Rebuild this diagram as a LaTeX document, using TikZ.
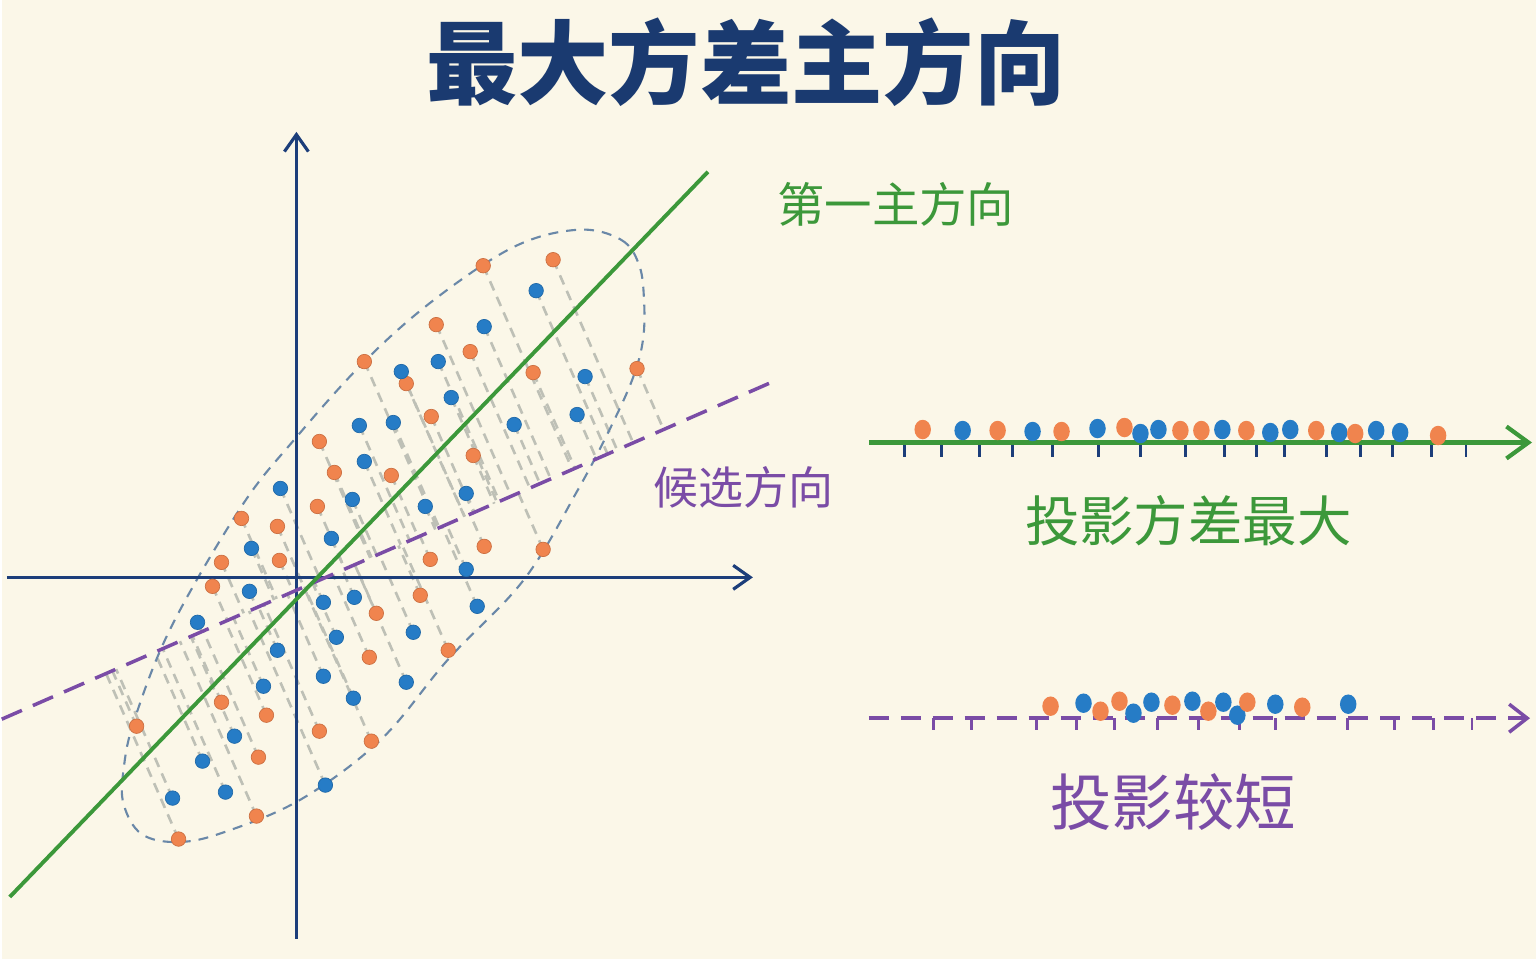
\documentclass[tikz,border=0pt]{standalone}
\usepackage{fontspec}
\setmainfont{Noto Sans CJK SC}
\usepackage{tikz}
\usetikzlibrary{calc}
\usetikzlibrary{positioning}
\usetikzlibrary{arrows.meta}
\usetikzlibrary{shapes.geometric}

\definecolor{bgcream}{RGB}{251,247,232}
\definecolor{axisnavy}{RGB}{28,62,122}
\definecolor{titlenavy}{RGB}{26,58,112}
\definecolor{pcgreen}{RGB}{60,152,58}
\definecolor{cdpurple}{RGB}{122,76,166}
\definecolor{ptorange}{RGB}{240,132,78}
\definecolor{ptblue}{RGB}{38,124,198}
\definecolor{ellslate}{RGB}{106,136,168}
\definecolor{projgray}{RGB}{190,192,182}

\tikzset{
  axisline/.style={draw=axisnavy, line width=0.9pt, -{Straight Barb[length=1.7mm,width=2.4mm]}},
  odot/.style={circle, fill=ptorange, draw=ptorange!85!black, line width=0.2pt, inner sep=0pt, minimum size=1.45mm},
  bdot/.style={circle, fill=ptblue, draw=ptblue!85!black, line width=0.2pt, inner sep=0pt, minimum size=1.45mm},
  oproj/.style={ellipse, fill=ptorange, inner sep=0pt, minimum width=1.65mm, minimum height=1.95mm},
  bproj/.style={ellipse, fill=ptblue, inner sep=0pt, minimum width=1.65mm, minimum height=1.95mm},
  projline/.style={draw=projgray, line width=0.75pt, dash pattern=on 0.1cm off 0.07cm},
  ellipseline/.style={draw=ellslate, line width=0.6pt, dash pattern=on 0.1cm off 0.08cm},
  tickmark/.style={draw=axisnavy, line width=0.8pt},
  ptick/.style={draw=cdpurple, line width=0.8pt},
}

\def\orangepts{482/266, 552/260, 435/325, 469/352, 363/362, 405/384, 532/373, 636/369,
  430/417, 318/442, 333/473, 390/476, 472/456, 316/507, 240/519, 276/527, 278/561,
  220/563, 429/560, 483/547, 542/550, 211/587, 419/596, 375/614, 368/658, 447/651,
  220/703, 265/716, 135/727, 318/732, 370/742, 257/758, 255/817, 177/840}
\def\bluepts{535/291, 483/327, 400/372, 437/362, 450/398, 358/426, 392/423, 513/425,
  584/377, 576/415, 363/462, 279/489, 351/500, 424/507, 465/494, 250/549, 330/539,
  465/570, 248/592, 322/603, 353/598, 476/607, 196/623, 335/638, 412/633, 276/651,
  322/677, 405/683, 262/687, 352/699, 233/737, 201/762, 324/786, 171/799, 224/793}

\begin{document}
\begin{tikzpicture}[x=0.01cm, y=-0.01cm]
  \fill[bgcream] (0,0) rectangle (1536,960);

  % reference lines
  \coordinate (c1) at (0,720);
  \coordinate (c2) at (770,383);
  \coordinate (g1) at (8,898);
  \coordinate (g2) at (707,172);

  % projections onto the candidate direction
  \foreach \x/\y in \orangepts {
    \draw[projline] (\x,\y) -- ($(c1)!(\x,\y)!(c2)$);
  }
  \foreach \x/\y in \bluepts {
    \draw[projline] (\x,\y) -- ($(c1)!(\x,\y)!(c2)$);
  }

  % outline of the point cloud
  \draw[ellipseline] plot[smooth cycle, tension=0.6] coordinates {
    (577,230) (620,240) (638,265) (643,300) (642,340) (632,378) (610,427) (577,490)
    (523,580) (447,660) (380,740) (300,800) (223,833) (177,843) (140,835) (122,805)
    (122,770) (133,720) (170,627) (240,507) (293,440) (363,362) (433,300) (513,247)};

  % axes
  \coordinate (xa) at (5,578);
  \coordinate (xb) at (752,578);
  \coordinate (ya) at (295,940);
  \coordinate (yb) at (295,132);
  \draw[axisline] (xa) -- (xb);
  \draw[axisline] (ya) -- (yb);

  \draw[cdpurple, line width=1pt, dash pattern=on 0.22cm off 0.12cm] (c1) -- (c2);
  \draw[pcgreen, line width=1.1pt] (g1) -- (g2);

  % data points
  \foreach \x/\y [count=\i] in \orangepts {
    \node[odot] (o\i) at (\x,\y) {};
  }
  \foreach \x/\y [count=\i] in \bluepts {
    \node[bdot] (b\i) at (\x,\y) {};
  }

  % labels
  \node[titlenavy, font=\fontsize{26pt}{30pt}\selectfont\bfseries] (title) at (745,62) {最大方差主方向};
  \node[pcgreen, font=\fontsize{13.5pt}{16pt}\selectfont] (pclabel) at (895,205) {第一主方向};
  \node[cdpurple, font=\fontsize{12.8pt}{15pt}\selectfont] (cdlabel) at (743,488) {候选方向};

  % projection onto first principal direction
  \coordinate (ga) at (868,443);
  \coordinate (gb) at (1532,443);
  \foreach \t in {904,941,979,1012,1052,1098,1140,1185,1224,1256,1284,1326,1360,1392,1431,1466} {
    \draw[tickmark] (\t,443) -- (\t,458);
  }
  \draw[pcgreen, line width=1.2pt, -{Straight Barb[length=2.2mm,width=3.2mm]}] (ga) -- (gb);
  \foreach \x/\y/\c [count=\i] in {922/430/o, 962/431/b, 997/431/o, 1032/432/b, 1061/432/o,
      1097/429/b, 1124/428/o, 1140/434/b, 1158/430/b, 1180/431/o, 1201/431/o, 1222/430/b,
      1246/431/o, 1270/433/b, 1290/430/b, 1316/431/o, 1339/433/b, 1355/434/o, 1376/431/b,
      1400/433/b, 1438/436/o} {
    \node[\c proj] (gp\i) at (\x,\y) {};
  }
  \node[pcgreen, font=\fontsize{15.5pt}{18pt}\selectfont] (gplabel) at (1188,521) {投影方差最大};

  % projection onto candidate direction
  \coordinate (pa) at (868,719);
  \coordinate (pb) at (1530,719);
  \foreach \t in {933,971,1036,1076,1114,1157,1198,1239,1275,1347,1394,1433,1472} {
    \draw[ptick] (\t,719) -- (\t,731);
  }
  \draw[cdpurple, line width=1pt, dash pattern=on 0.2cm off 0.12cm] (pa) -- ($(pb)+(-12,0)$);
  \draw[cdpurple, line width=1pt, -{Straight Barb[length=1.8mm,width=2.8mm]}] ($(pb)+(-14,0)$) -- (pb);
  \foreach \x/\y/\c [count=\i] in {1050/707/o, 1083/704/b, 1100/712/o, 1119/702/o, 1133/714/b,
      1151/703/b, 1172/706/o, 1192/702/b, 1208/712/o, 1223/703/b, 1237/716/b, 1247/703/o,
      1275/705/b, 1302/708/o, 1348/705/b} {
    \node[\c proj] (cp\i) at (\x,\y) {};
  }
  \node[cdpurple, font=\fontsize{17.5pt}{20pt}\selectfont] (cplabel) at (1173,803) {投影较短};
\end{tikzpicture}
\end{document}
